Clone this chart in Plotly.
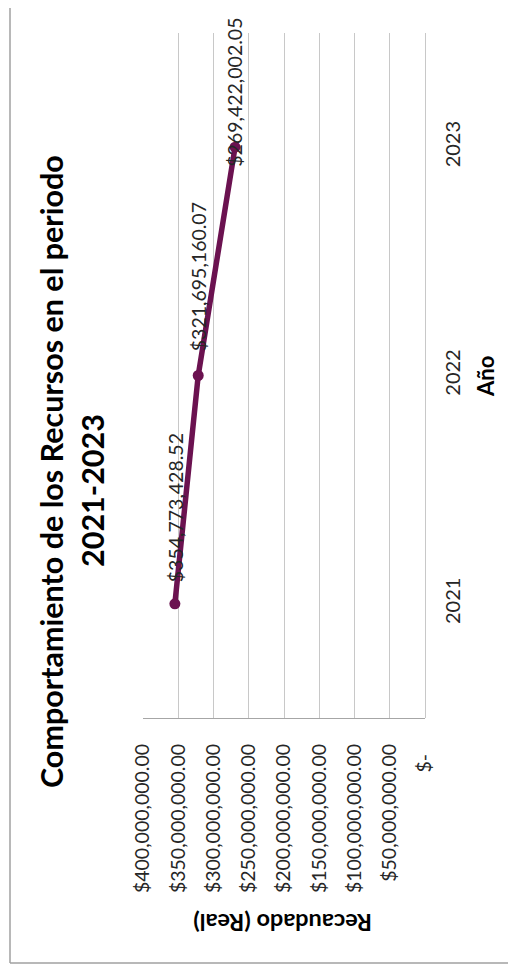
import plotly.graph_objects as go

# ---- data ----
years = ["2021", "2022", "2023"]
recaudado = [354773428.52, 321695160.07, 269422002.05]
data_labels = ["$354,773,428.52", "$321,695,160.07", "$269,422,002.05"]
tick_values = [0, 50e6, 100e6, 150e6, 200e6, 250e6, 300e6, 350e6, 400e6]
tick_labels = ["$-\u00a0\u00a0", "$50,000,000.00", "$100,000,000.00", "$150,000,000.00",
               "$200,000,000.00", "$250,000,000.00", "$300,000,000.00",
               "$350,000,000.00", "$400,000,000.00"]
title_line1 = "Comportamiento de los Recursos en el periodo"
title_line2 = "2021-2023"
x_title = "Recaudado (Real)"
y_title = "Año"

# ---- layout geometry (page pixels; the page has an 8px body margin) ----
OFF = 8
W, H = 516 - OFF, 968 - OFF
L = 143 - OFF
T = 33 - OFF
R = W - (425 - OFF)
B = H - (718 - OFF)
PW, PH = W - L - R, H - T - B


def px_x(px):
    return (px - OFF - L) / PW


def px_y(py):
    return (H - B - (py - OFF)) / PH


FONT = "Lato"
LINE_COLOR = "#6B1250"
TEXT_COLOR = "#262626"
GRID = "#c8c8c8"

fig = go.Figure()
fig.add_trace(go.Scatter(
    x=recaudado, y=years, mode="lines+markers",
    line=dict(color=LINE_COLOR, width=5.5),
    marker=dict(color=LINE_COLOR, size=11),
    hoverinfo="skip", showlegend=False,
))

# data labels (rotated text); category position given by index
shifts = [20, 22, -22]
for i, (xv, lab, sh) in enumerate(zip(recaudado, data_labels, shifts)):
    fig.add_annotation(x=xv, y=i, xref="x", yref="y", text=lab, showarrow=False,
                       textangle=-90, xanchor="center", yanchor="bottom", yshift=sh,
                       font=dict(family=FONT, size=19.5, color=TEXT_COLOR))

# title (two rotated lines)
fig.add_annotation(xref="paper", yref="paper", x=px_x(51), y=px_y(472),
                   text="<b>" + title_line1 + "</b>", showarrow=False, textangle=-90,
                   xanchor="center", yanchor="middle",
                   font=dict(family=FONT, size=30.5, color="#000000"))
fig.add_annotation(xref="paper", yref="paper", x=px_x(92), y=px_y(491),
                   text="<b>" + title_line2 + "</b>", showarrow=False, textangle=-90,
                   xanchor="center", yanchor="middle",
                   font=dict(family=FONT, size=30.5, color="#000000"))
# axis titles
fig.add_annotation(xref="paper", yref="paper", x=px_x(485), y=px_y(377),
                   text="<b>" + y_title + "</b>", showarrow=False, textangle=-90,
                   xanchor="center", yanchor="middle",
                   font=dict(family=FONT, size=22, color="#000000"))
fig.add_annotation(xref="paper", yref="paper", x=px_x(283), y=px_y(923),
                   text="<b>" + x_title + "</b>", showarrow=False, textangle=180,
                   xanchor="center", yanchor="middle",
                   font=dict(family=FONT, size=23.5, color="#000000"))

# outer border (partly outside the view)
border = dict(color="#a0a0a0", width=1.5)
fig.add_shape(type="line", xref="paper", yref="paper",
              x0=px_x(10), x1=px_x(10), y0=px_y(963), y1=px_y(-20), line=border)
fig.add_shape(type="line", xref="paper", yref="paper",
              x0=px_x(10), x1=px_x(540), y0=px_y(963), y1=px_y(963), line=border)

fig.update_xaxes(
    range=[400e6, 0], tickvals=tick_values, ticktext=tick_labels, tickangle=-90,
    showgrid=True, gridcolor=GRID, gridwidth=1.2,
    zeroline=True, zerolinecolor=GRID, zerolinewidth=1.2,
    showline=True, linecolor="#a6a6a6", linewidth=1.2, mirror=False,
    ticks="", ticklabelstandoff=17,
    tickfont=dict(family=FONT, size=19.5, color=TEXT_COLOR),
)
fig.update_yaxes(
    type="category", categoryorder="array", categoryarray=years,
    range=[-0.5, 2.5], side="right", tickangle=-90,
    showgrid=False, zeroline=False, showline=False, ticks="",
    ticklabelstandoff=14,
    tickfont=dict(family=FONT, size=20, color=TEXT_COLOR),
)
fig.update_layout(
    width=W, height=H, autosize=False,
    margin=dict(l=L, r=R, t=T, b=B, autoexpand=False),
    paper_bgcolor="white", plot_bgcolor="white",
    showlegend=False,
)
fig.write_html("out.html", config={"displayModeBar": False})
